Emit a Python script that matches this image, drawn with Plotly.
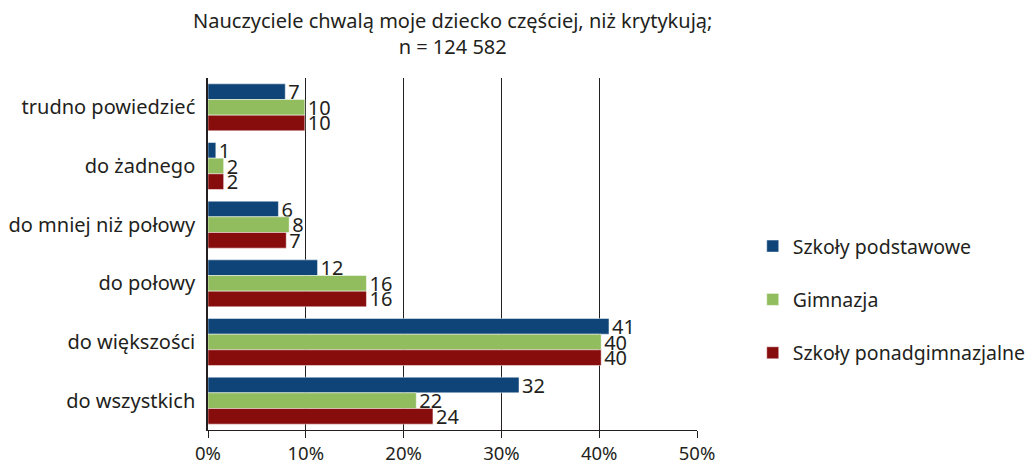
import plotly.graph_objects as go

# categories listed top to bottom, as shown
categories = ["trudno powiedzieć", "do żadnego", "do mniej niż połowy",
              "do połowy", "do większości", "do wszystkich"]

podstawowe = [7.9, 0.8, 7.2, 11.2, 41.0, 31.8]
gimnazja = [9.9, 1.6, 8.3, 16.2, 40.2, 21.3]
ponadgimn = [9.9, 1.6, 8.0, 16.2, 40.2, 23.0]

# printed value labels (as in the source chart)
podstawowe_lbl = ["7", "1", "6", "12", "41", "32"]
gimnazja_lbl = ["10", "2", "8", "16", "40", "22"]
ponadgimn_lbl = ["10", "2", "7", "16", "40", "24"]

x_ticks = [0, 10, 20, 30, 40, 50]
x_tick_text = ["0%", "10%", "20%", "30%", "40%", "50%"]

FONT = "Noto Sans, Open Sans, Arial"
INK = "#231f20"

series = [
    ("Szkoły podstawowe", podstawowe, podstawowe_lbl, "#0e4477"),
    ("Gimnazja", gimnazja, gimnazja_lbl, "#92bd5f"),
    ("Szkoły ponadgimnazjalne", ponadgimn, ponadgimn_lbl, "#870c0c"),
]

fig = go.Figure()
for i, (name, vals, lbls, color) in enumerate(series):
    fig.add_trace(go.Bar(
        y=categories, x=vals, name=name, orientation="h",
        marker=dict(color=color, line=dict(width=0.6, color="rgba(255,255,255,0.8)")),
        text=lbls, textposition="outside", constraintext="none",
        textfont=dict(size=20, color=INK, family=FONT),
        cliponaxis=False, legendgroup=f"g{i}",
    ))

fig.add_annotation(
    text="Nauczyciele chwalą moje dziecko częściej, niż krytykują;<br>n = 124 582",
    x=0.5, xref="paper", xanchor="center",
    y=1, yref="paper", yanchor="bottom", yshift=16,
    showarrow=False, align="center",
    font=dict(size=20, family=FONT, color=INK),
)

# page body has an 8px margin, so the figure is 8px smaller than the window
fig.update_layout(
    width=1026, height=456,
    barmode="group", bargap=0.2, bargroupgap=0,
    plot_bgcolor="white", paper_bgcolor="white",
    font=dict(family=FONT, size=19, color=INK),
    margin=dict(l=200, r=337, t=70, b=34, autoexpand=False),
    xaxis=dict(
        range=[0, 50], tickvals=x_ticks, ticktext=x_tick_text,
        showgrid=True, gridcolor=INK, gridwidth=1,
        showline=True, linecolor=INK, linewidth=1,
        ticks="outside", ticklen=7, tickcolor=INK,
        zeroline=False, tickfont=dict(size=18.5), automargin=False,
    ),
    yaxis=dict(
        autorange="reversed", showline=True, linecolor=INK, linewidth=1.5,
        ticks="", ticklabelstandoff=7, tickfont=dict(size=20), automargin=False,
    ),
    legend=dict(
        x=1.114, xanchor="left", y=0.577, yanchor="top",
        traceorder="grouped", tracegroupgap=25,
        font=dict(size=19.5, family=FONT), bgcolor="rgba(0,0,0,0)",
    ),
    showlegend=True,
)

fig.write_html("out.html")
